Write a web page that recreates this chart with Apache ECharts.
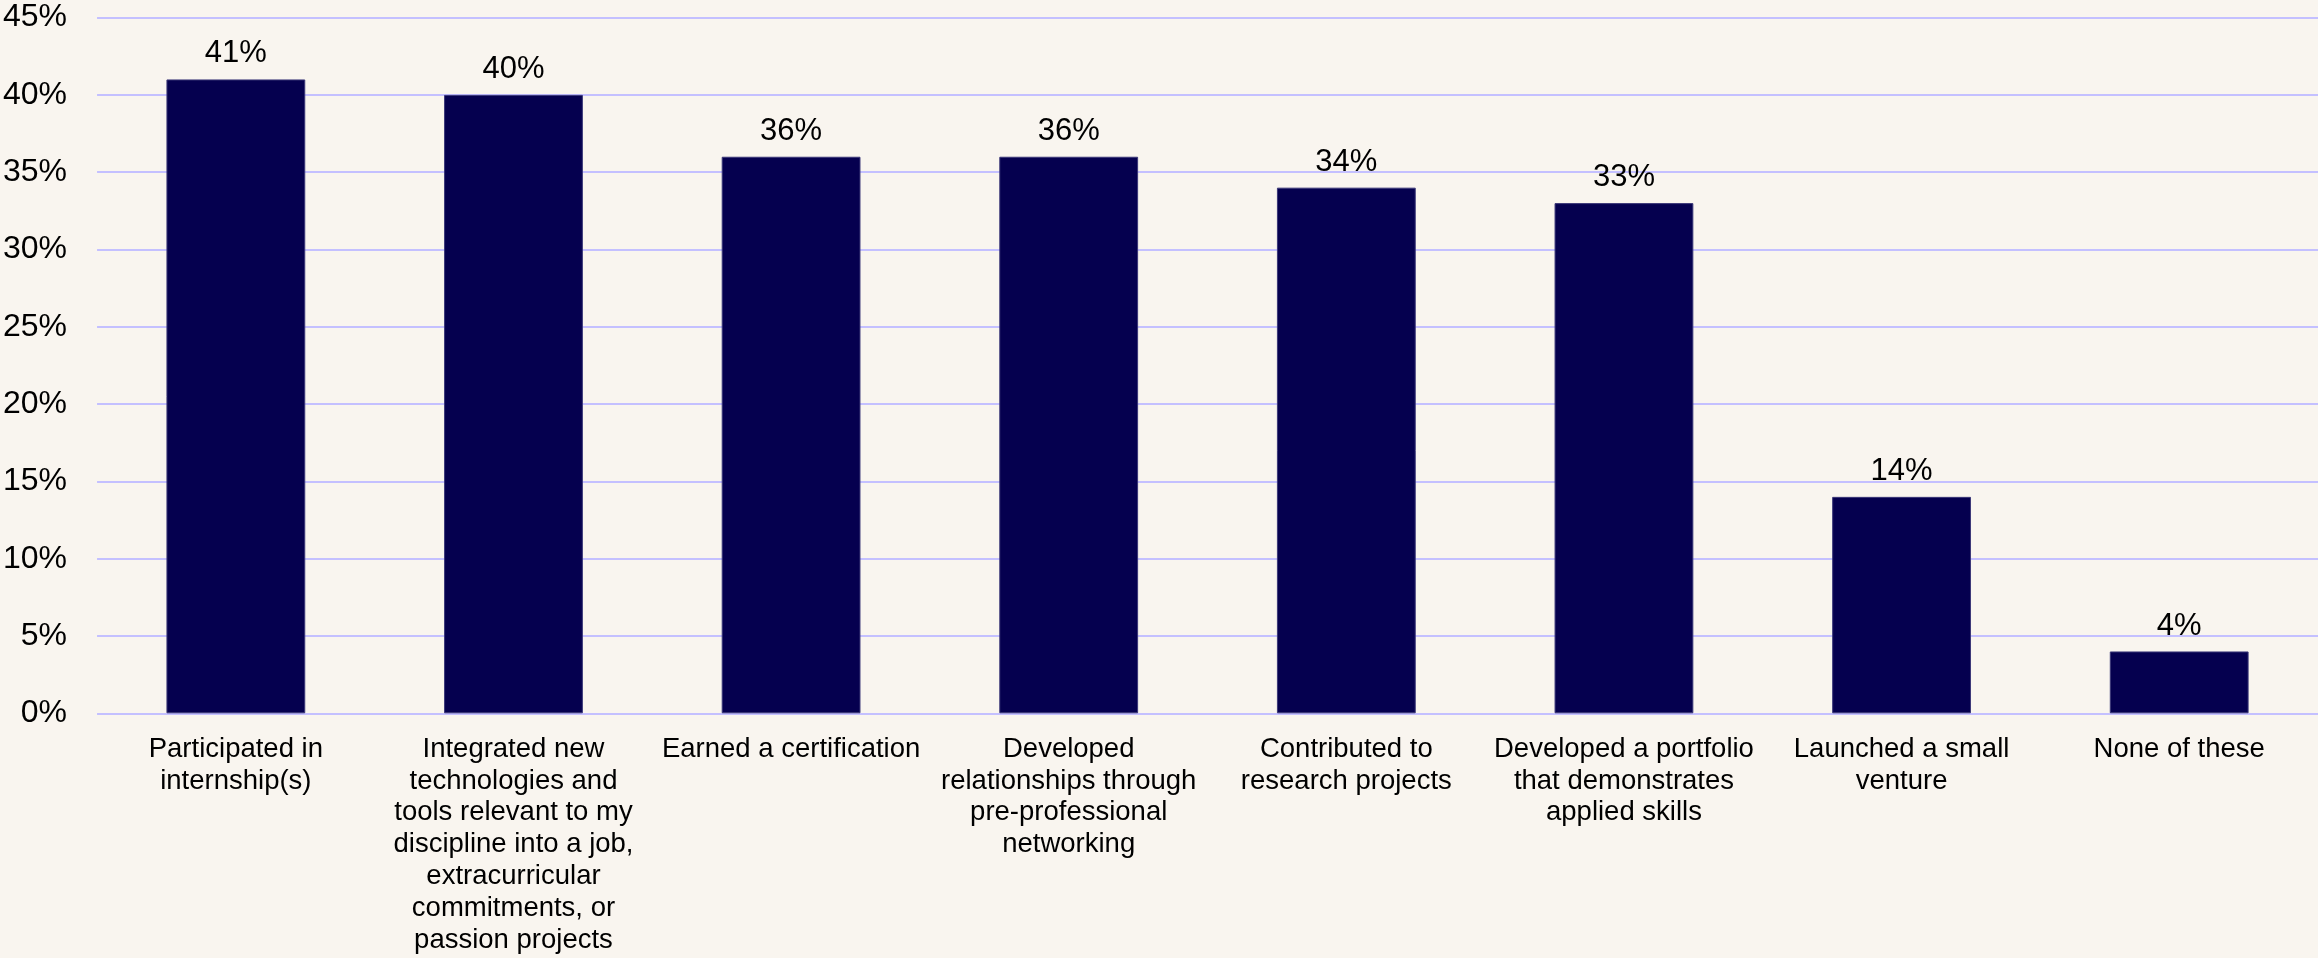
<!DOCTYPE html>
<html>
<head>
<meta charset="utf-8">
<script src="https://cdn.jsdelivr.net/npm/echarts@6/dist/echarts.min.js"></script>
<style>
html,body{margin:0;padding:0;background:#F9F5EF;}
#chart{width:2318px;height:958px;}
</style>
</head>
<body>
<div id="chart"></div>
<script>
const categories = [
  "Participated in\ninternship(s)",
  "Integrated new\ntechnologies and\ntools relevant to my\ndiscipline into a job,\nextracurricular\ncommitments, or\npassion projects",
  "Earned a certification",
  "Developed\nrelationships through\npre-professional\nnetworking",
  "Contributed to\nresearch projects",
  "Developed a portfolio\nthat demonstrates\napplied skills",
  "Launched a small\nventure",
  "None of these"
];
const values = [41, 40, 36, 36, 34, 33, 14, 4];
const yMin = 0, yMax = 45, yStep = 5;

const chart = echarts.init(document.getElementById('chart'), null, {renderer: 'canvas'});
chart.setOption({
  backgroundColor: '#F9F5EF',
  animation: false,
  grid: {left: 96, right: 0, top: 17.6, bottom: 244.7, containLabel: false},
  xAxis: {
    type: 'category',
    data: categories,
    axisLine: {show: false},
    axisTick: {show: false},
    axisLabel: {
      interval: 0,
      margin: 20,
      color: '#000',
      fontFamily: 'Liberation Sans, Arial, sans-serif',
      fontSize: 27.5,
      lineHeight: 31.8,
      align: 'center'
    }
  },
  yAxis: {
    type: 'value',
    min: yMin, max: yMax, interval: yStep,
    axisLine: {show: false},
    axisTick: {show: false},
    splitLine: {lineStyle: {color: '#C4C0FF', width: 2}},
    axisLabel: {
      formatter: '{value}%',
      margin: 30,
      color: '#000',
      fontFamily: 'Liberation Sans, Arial, sans-serif',
      fontSize: 32
    }
  },
  series: [{
    type: 'bar',
    data: values,
    barWidth: '50%',
    itemStyle: {color: '#05004F', borderColor: '#3b3778', borderWidth: 1},
    label: {
      show: true,
      position: 'top',
      distance: 10,
      formatter: '{c}%',
      color: '#000',
      fontFamily: 'Liberation Sans, Arial, sans-serif',
      fontSize: 31
    }
  }]
});
</script>
</body>
</html>
